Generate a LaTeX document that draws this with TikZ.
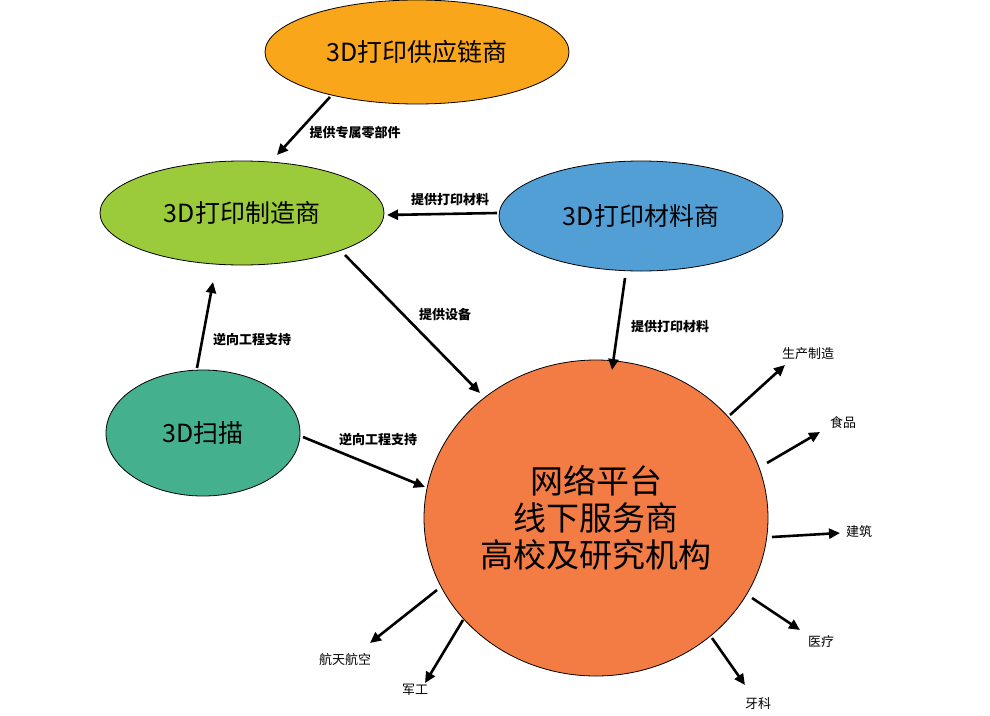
\documentclass[tikz,border=0pt]{standalone}
\usepackage{fontspec}
\setmainfont{Noto Sans CJK SC}
\usetikzlibrary{shapes.geometric,arrows.meta}
\definecolor{corange}{HTML}{FAA61A}
\definecolor{cgreen}{HTML}{9BCB3B}
\definecolor{cblue}{HTML}{529FD6}
\definecolor{cteal}{HTML}{44B08D}
\definecolor{cbig}{HTML}{F37C44}
\begin{document}
\begin{tikzpicture}[x=1pt,y=-1pt,
  ell/.style={ellipse,draw=black,line width=0.8pt,inner sep=0pt},
  big/.style={font=\fontsize{25}{28}\selectfont},
  arr/.style={line width=2.6pt,-{Triangle[length=11pt,width=10pt]}},
  lab/.style={font=\bfseries\fontsize{13}{15}\selectfont},
  otxt/.style={font=\fontsize{13}{15}\selectfont}]
\useasboundingbox (0,0) rectangle (990,715);
\node[ell,big,fill=corange,minimum width=304pt,minimum height=104pt] (sup) at (417,52) {3D打印供应链商};
\node[ell,big,fill=cgreen,minimum width=284pt,minimum height=104pt] (man) at (242,213) {3D打印制造商};
\node[ell,big,fill=cblue,minimum width=284pt,minimum height=110pt] (mat) at (641,216) {3D打印材料商};
\node[ell,big,fill=cteal,minimum width=194pt,minimum height=126pt] (scan) at (203,433) {3D扫描};
\node[ell,fill=cbig,minimum width=344pt,minimum height=316pt,font=\fontsize{33}{37}\selectfont,align=center] (big) at (596,518) {网络平台\\线下服务商\\高校及研究机构};
% connectors
\coordinate (a1) at (330,97); \coordinate (a2) at (277,155);
\draw[arr] (a1) -- (a2); \node[lab] (la) at (355,133) {提供专属零部件};
\coordinate (b1) at (497,213); \coordinate (b2) at (387,215);
\draw[arr] (b1) -- (b2); \node[lab] (lb) at (450,200) {提供打印材料};
\coordinate (c1) at (345,255); \coordinate (c2) at (480,393);
\draw[arr] (c1) -- (c2); \node[lab] (lc) at (445,315) {提供设备};
\coordinate (d1) at (625,278); \coordinate (d2) at (612,370);
\draw[arr] (d1) -- (d2); \node[lab] (ld) at (670,327) {提供打印材料};
\coordinate (e1) at (197,368); \coordinate (e2) at (213,282);
\draw[arr] (e1) -- (e2); \node[lab] (le) at (252,340) {逆向工程支持};
\coordinate (f1) at (303,437); \coordinate (f2) at (425,487);
\draw[arr] (f1) -- (f2); \node[lab] (lf) at (378,440) {逆向工程支持};
% outgoing
\foreach \sx/\sy/\ex/\ey/\tx/\ty/\t in {
 730/415/785/365/808/354/生产制造,
 767/463/820/432/843/423/食品,
 772/537/840/533/859/532/建筑,
 752/598/800/630/821/642/医疗,
 712/638/745/685/758/704/牙科,
 463/620/425/683/415/690/军工,
 437/590/370/643/345/660/航天航空}{
 \coordinate (s) at (\sx,\sy); \coordinate (e) at (\ex,\ey);
 \draw[arr] (s) -- (e);
 \node[otxt] at (\tx,\ty) {\t};
}
\end{tikzpicture}
\end{document}
